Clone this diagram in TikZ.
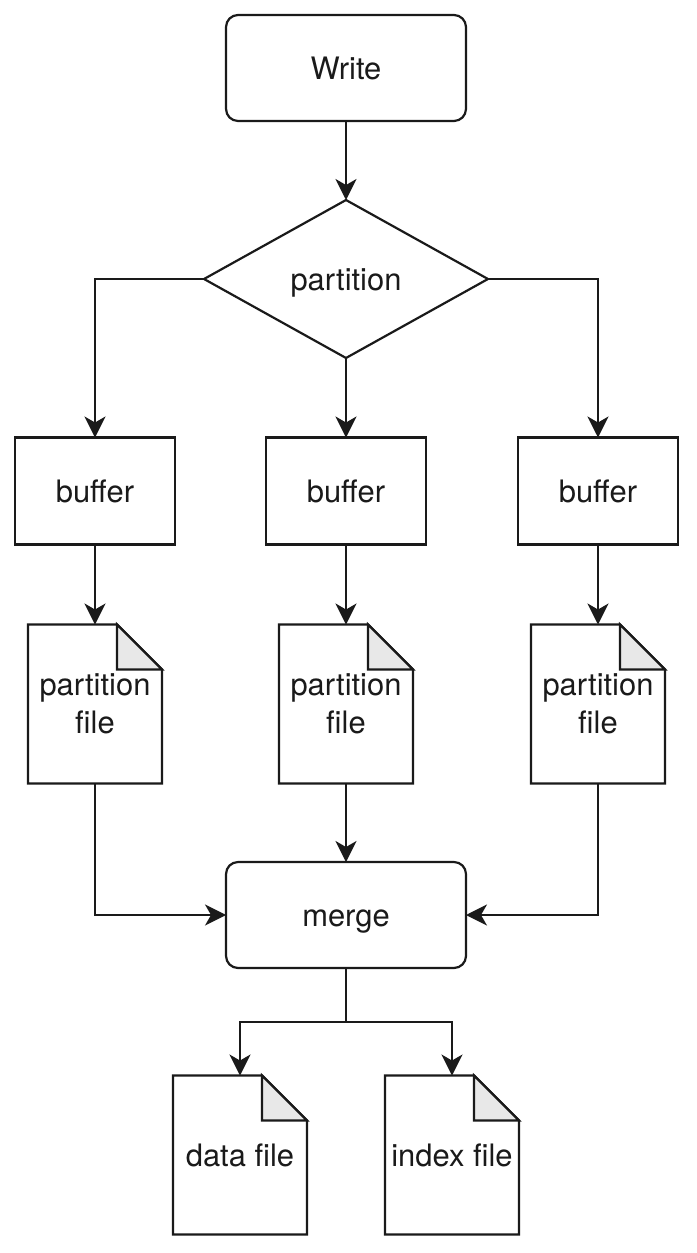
\documentclass[tikz,border=0pt]{standalone}
\usepackage{fontspec}
\setmainfont{TeX Gyre Heros}
\usetikzlibrary{shapes.geometric,arrows.meta}
\definecolor{foldgray}{HTML}{E8E8E8}
\definecolor{inkgray}{HTML}{1A1A1A}
\newlength{\foldsize}
\setlength{\foldsize}{0.9cm}
% dog-eared outline round a (borderless) file node
\newcommand{\foldfile}[1]{%
  \draw[fileline] (#1.south west) -- (#1.north west) -- ([xshift=-\foldsize]#1.north east)
    -- ([yshift=-\foldsize]#1.north east) -- (#1.south east) -- cycle;
  \draw[fileline, fill=foldgray] ([xshift=-\foldsize]#1.north east)
    -- ([xshift=-\foldsize,yshift=-\foldsize]#1.north east) -- ([yshift=-\foldsize]#1.north east) -- cycle;
}
\begin{document}
\begin{tikzpicture}[
    x=0.02cm, y=-0.02cm,
    every node/.style={font=\fontsize{17.6}{21.5}\selectfont, text=inkgray, outer sep=0pt},
    oneline/.style={text height=12.7pt, text depth=0pt},
    roundbox/.style={oneline, draw=inkgray, line width=1.25pt, rounded corners=0.24cm,
      minimum width=4.8cm, minimum height=2.12cm},
    bufbox/.style={oneline, draw=inkgray, line width=1.25pt, minimum width=3.2cm, minimum height=2.14cm},
    choice/.style={oneline, draw=inkgray, line width=1.25pt, diamond, aspect=1.8, inner sep=0pt,
      minimum width=5.68cm, minimum height=3.16cm},
    filebox/.style={align=center, inner sep=0pt, minimum width=2.68cm, minimum height=3.18cm},
    fileline/.style={draw=inkgray, line width=1.25pt, line join=miter},
    link/.style={draw=inkgray, line width=1.25pt},
    flow/.style={link, -{Stealth[length=0.42cm, width=0.42cm, inset=0.12cm]}}
  ]
  \useasboundingbox[fill=white] (0,0) rectangle (696,1253);

  \node[roundbox] (write) at (346,68) {Write};
  \node[choice] (part) at (346,279) {partition};

  \node[bufbox] (buf1) at (95,491) {buffer};
  \node[bufbox] (buf2) at (346,491) {buffer};
  \node[bufbox] (buf3) at (598,491) {buffer};

  \node[filebox] (pf1) at (95,704) {partition\\file};
  \node[filebox] (pf2) at (346,704) {partition\\file};
  \node[filebox] (pf3) at (598,704) {partition\\file};

  \node[roundbox] (merge) at (346,915) {merge};

  \node[filebox, oneline] (data) at (240,1155) {data file};
  \node[filebox, oneline] (index) at (452,1155) {index file};
  \coordinate (fork) at (346,1022);

  \foldfile{pf1}
  \foldfile{pf2}
  \foldfile{pf3}
  \foldfile{data}
  \foldfile{index}

  % connectors
  \draw[flow] (write) -- (part);
  \draw[flow] (part.west) -| (buf1.north);
  \draw[flow] (part.south) -- (buf2.north);
  \draw[flow] (part.east) -| (buf3.north);
  \foreach \i in {1,2,3}
    \draw[flow] (buf\i.south) -- (pf\i.north);
  \draw[flow] (pf1.south) |- (merge.west);
  \draw[flow] (pf2.south) -- (merge.north);
  \draw[flow] (pf3.south) |- (merge.east);
  \draw[link] (merge.south) -- (fork);
  \draw[flow] (fork) -| (data.north);
  \draw[flow] (fork) -| (index.north);
\end{tikzpicture}
\end{document}
